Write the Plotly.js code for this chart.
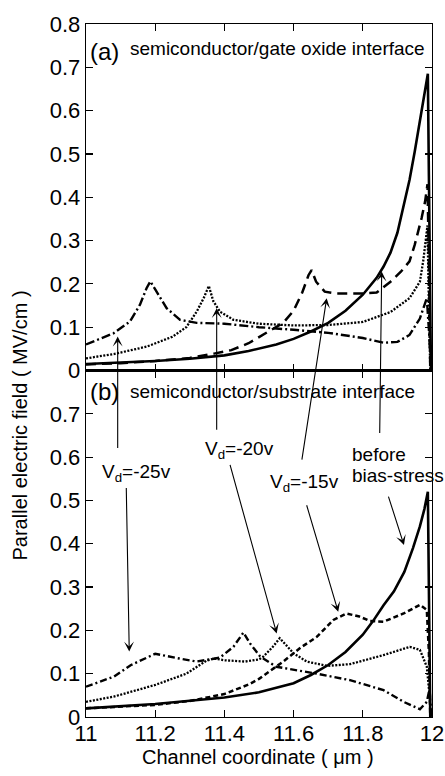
<!DOCTYPE html>
<html>
<head>
<meta charset="utf-8">
<script src="https://cdn.plot.ly/plotly-3.0.1.min.js"></script>
<style>html,body{margin:0;padding:0;background:#fff}#chart{width:445px;height:776px}</style>
</head>
<body>
<div id="chart"></div>
<script>
// ---------- Data ----------
// (a) semiconductor / gate oxide interface
const a_before_x = [11.00,11.10,11.20,11.30,11.40,11.47,11.55,11.60,11.65,11.70,11.75,11.80,11.82,11.84,11.86,11.88,11.90,11.92,11.935,11.95,11.962,11.972,11.981,11.988,11.991,11.994,11.997];
const a_before_y = [0.015,0.018,0.022,0.027,0.035,0.045,0.060,0.073,0.090,0.110,0.138,0.175,0.195,0.214,0.240,0.272,0.318,0.385,0.440,0.505,0.560,0.610,0.655,0.685,0.450,0.200,0.000];

const a_vd15_x = [11.00,11.10,11.20,11.30,11.37,11.42,11.47,11.52,11.57,11.60,11.625,11.643,11.652,11.665,11.69,11.72,11.80,11.84,11.88,11.91,11.935,11.95,11.97,11.98,11.987,11.991,11.995];
const a_vd15_y = [0.014,0.017,0.022,0.029,0.039,0.047,0.063,0.086,0.110,0.138,0.180,0.220,0.232,0.205,0.182,0.178,0.178,0.180,0.205,0.228,0.252,0.290,0.352,0.390,0.430,0.250,0.000];

const a_vd20_x = [11.00,11.08,11.175,11.25,11.29,11.32,11.34,11.355,11.368,11.387,11.426,11.50,11.60,11.70,11.80,11.88,11.935,11.965,11.975,11.982,11.987,11.991,11.995];
const a_vd20_y = [0.028,0.038,0.055,0.078,0.100,0.136,0.167,0.195,0.160,0.136,0.117,0.108,0.104,0.105,0.112,0.135,0.167,0.205,0.255,0.300,0.335,0.150,0.000];

const a_vd25_x = [11.00,11.08,11.127,11.156,11.175,11.186,11.204,11.233,11.272,11.32,11.40,11.50,11.60,11.70,11.80,11.86,11.90,11.935,11.965,11.985,11.993,11.998];
const a_vd25_y = [0.060,0.086,0.113,0.152,0.190,0.206,0.182,0.144,0.117,0.110,0.108,0.100,0.094,0.087,0.075,0.064,0.066,0.082,0.120,0.167,0.070,0.000];

// (b) semiconductor / substrate interface
const b_before_x = [11.00,11.20,11.40,11.50,11.60,11.65,11.70,11.75,11.80,11.83,11.86,11.89,11.92,11.945,11.965,11.978,11.988,11.991,11.995];
const b_before_y = [0.020,0.030,0.045,0.057,0.078,0.097,0.120,0.150,0.190,0.222,0.258,0.290,0.335,0.390,0.440,0.480,0.520,0.300,0.000];

const b_vd15_x = [11.00,11.20,11.30,11.40,11.47,11.50,11.57,11.62,11.667,11.715,11.753,11.79,11.82,11.86,11.918,11.965,11.985,11.991,11.995];
const b_vd15_y = [0.020,0.028,0.037,0.053,0.075,0.088,0.128,0.160,0.185,0.224,0.239,0.232,0.222,0.220,0.239,0.259,0.247,0.150,0.000];

const b_vd20_x = [11.00,11.08,11.20,11.29,11.348,11.37,11.40,11.46,11.50,11.512,11.54,11.56,11.60,11.638,11.696,11.763,11.86,11.936,11.965,11.985,11.993,11.997];
const b_vd20_y = [0.035,0.047,0.074,0.100,0.130,0.135,0.131,0.128,0.133,0.139,0.162,0.182,0.147,0.128,0.118,0.122,0.143,0.162,0.155,0.116,0.050,0.000];

const b_vd25_x = [11.00,11.08,11.13,11.20,11.27,11.32,11.387,11.426,11.455,11.474,11.503,11.55,11.667,11.763,11.86,11.918,11.965,11.985,11.993,11.998];
const b_vd25_y = [0.070,0.093,0.120,0.146,0.135,0.128,0.137,0.162,0.195,0.170,0.140,0.116,0.100,0.085,0.062,0.035,0.018,0.035,0.065,0.000];

// Tick labels
const xTickVals = [11, 11.2, 11.4, 11.6, 11.8, 12];
const xTickText = ['11', '11.2', '11.4', '11.6', '11.8', '12'];
const yTopVals = [0, 0.1, 0.2, 0.3, 0.4, 0.5, 0.6, 0.7, 0.8];
const yTopText = ['0', '0.1', '0.2', '0.3', '0.4', '0.5', '0.6', '0.7', '0.8'];
const yBotVals = [0, 0.1, 0.2, 0.3, 0.4, 0.5, 0.6, 0.7];
const yBotText = ['0', '0.1', '0.2', '0.3', '0.4', '0.5', '0.6', '0.7'];

// ---------- Chart ----------
const FONT = 'Liberation Sans, Arial, Helvetica, sans-serif';
function tr(x, y, dash, width, xa, ya) {
  return {x: x, y: y, type: 'scatter', mode: 'lines', xaxis: xa, yaxis: ya,
    line: {color: '#000', width: width, dash: dash}, hoverinfo: 'skip', showlegend: false};
}
const data = [
  tr(a_vd25_x, a_vd25_y, '9px,3px,2px,3px', 2.4, 'x2', 'y2'),
  tr(a_vd20_x, a_vd20_y, '2px,1.5px', 2.3, 'x2', 'y2'),
  tr(a_vd15_x, a_vd15_y, '10px,6px', 2.5, 'x2', 'y2'),
  tr(a_before_x, a_before_y, 'solid', 2.6, 'x2', 'y2'),
  tr(b_vd25_x, b_vd25_y, '7px,3px,2px,3px', 2.4, 'x', 'y'),
  tr(b_vd20_x, b_vd20_y, '2px,1.5px', 2.3, 'x', 'y'),
  tr(b_vd15_x, b_vd15_y, '5px,3px', 2.5, 'x', 'y'),
  tr(b_before_x, b_before_y, 'solid', 2.6, 'x', 'y')
];

const axCommon = {
  showline: true, linecolor: '#000', linewidth: 1.3, mirror: 'ticks',
  ticks: 'inside', ticklen: 7, tickwidth: 1.2, tickcolor: '#000',
  showgrid: false, zeroline: false, fixedrange: true,
  tickfont: {family: FONT, size: 22, color: '#000'}
};

function arrow(xref, yref, x, y, ax, ay) {
  return {xref: xref, yref: yref, x: x, y: y, ax: ax, ay: ay, text: '',
    showarrow: true, arrowhead: 3, arrowsize: 1.5, arrowwidth: 1.1,
    arrowcolor: '#000', standoff: 0, startstandoff: 0};
}
function label(x, y, text, size, anchor) {
  return {xref: 'paper', yref: 'paper', x: x, y: y, text: text, showarrow: false,
    xanchor: anchor || 'left', yanchor: 'middle',
    font: {family: FONT, size: size, color: '#000'}};
}

const annotations = [
  arrow('x2', 'y2', 11.0916, 0.0785, 0, 113),
  arrow('x2', 'y2', 11.3777, 0.144, 0, 123),
  arrow('x2', 'y2', 11.6956, 0.167, -25, 163),
  arrow('x2', 'y2', 11.8546, 0.2286, -2, 163),
  arrow('x', 'y', 11.125, 0.151, -3, -165),
  arrow('x', 'y', 11.551, 0.193, -47, -170),
  arrow('x', 'y', 11.729, 0.243, -32, -108),
  arrow('x', 'y', 11.919, 0.397, -16, -50),
  label(0.006, 0.961, '(a)', 24),
  label(0.121, 0.965, 'semiconductor/gate oxide interface', 19),
  label(0.006, 0.469, '(b)', 24),
  label(0.121, 0.470, 'semiconductor/substrate interface', 19),
  label(0.040, 0.352, 'V<sub>d</sub>=-25v', 19),
  label(0.338, 0.385, 'V<sub>d</sub>=-20v', 19),
  label(0.526, 0.338, 'V<sub>d</sub>=-15v', 19),
  label(0.763, 0.3795, 'before', 19),
  label(0.763, 0.348, 'bias-stress', 19),
  {xref: 'paper', yref: 'paper', x: -0.19, y: 0.421, text: 'Parallel electric field ( MV/cm )',
    textangle: -90, showarrow: false, xanchor: 'center', yanchor: 'middle',
    font: {family: FONT, size: 20, color: '#000'}},
  {xref: 'paper', yref: 'paper', x: 0.497, y: -0.058, text: 'Channel coordinate ( \u03bcm )',
    showarrow: false, xanchor: 'center', yanchor: 'middle',
    font: {family: FONT, size: 20, color: '#000'}}
];

const layout = {
  width: 445, height: 776,
  margin: {l: 86, r: 13, t: 24, b: 59, pad: 0},
  paper_bgcolor: '#fff', plot_bgcolor: '#fff',
  showlegend: false,
  xaxis: Object.assign({}, axCommon, {domain: [0, 1], range: [11, 12], anchor: 'y',
    tickmode: 'array', tickvals: xTickVals, ticktext: xTickText, ticklabelstandoff: -4}),
  yaxis: Object.assign({}, axCommon, {domain: [0, 0.5], range: [0, 0.8], anchor: 'x',
    tickmode: 'array', tickvals: yBotVals, ticktext: yBotText}),
  xaxis2: Object.assign({}, axCommon, {domain: [0, 1], range: [11, 12], anchor: 'y2',
    tickmode: 'array', tickvals: xTickVals, ticktext: xTickText, showticklabels: false}),
  yaxis2: Object.assign({}, axCommon, {domain: [0.5, 1], range: [0, 0.8], anchor: 'x2',
    tickmode: 'array', tickvals: yTopVals, ticktext: yTopText}),
  annotations: annotations
};

Plotly.newPlot('chart', data, layout, {staticPlot: true, displayModeBar: false});
</script>
</body>
</html>
